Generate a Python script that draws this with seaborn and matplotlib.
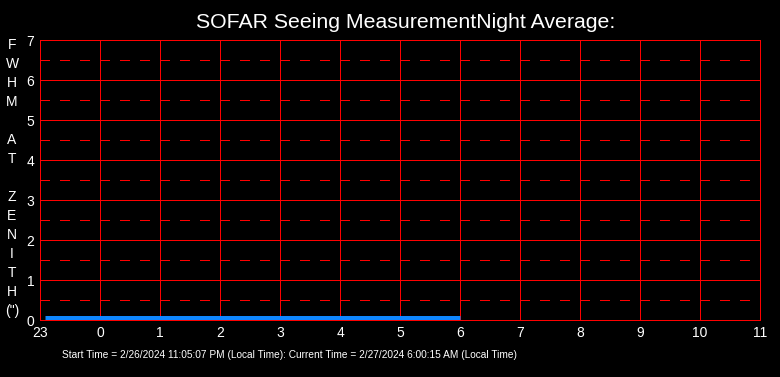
import matplotlib
matplotlib.use("Agg")
import matplotlib.pyplot as plt
import seaborn as sns
import pandas as pd
import numpy as np

# Data: hours since 23:00 local time, FWHM at zenith (arcsec)
hours_offset = [0.08, 1.0, 2.0, 3.0, 4.0, 5.0, 6.0, 7.0]
fwhm = [0.04, 0.04, 0.04, 0.04, 0.04, 0.04, 0.04, 0.04]
x_tick_labels = ["23", "0", "1", "2", "3", "4", "5", "6", "7", "8", "9", "10", "11"]
y_ticks = [0, 1, 2, 3, 4, 5, 6, 7]
title = "SOFAR Seeing MeasurementNight Average:"
ylabel_letters = ["F", "W", "H", "M", "", "A", "T", "", "Z", "E", "N", "I", "T", "H", "(\")"]
footer = "Start Time = 2/26/2024 11:05:07 PM (Local Time): Current Time = 2/27/2024 6:00:15 AM (Local Time)"

sns.set_style("dark")
plt.rcParams['font.family'] = ['Liberation Sans', 'DejaVu Sans']

df = pd.DataFrame({"t": hours_offset, "fwhm": fwhm})

fig = plt.figure(figsize=(7.8, 3.77), dpi=100, facecolor="black")
ax = fig.add_axes([40/780, 57/377, 720/780, 280/377])
ax.set_facecolor("black")

px = 0.72  # one pixel in points
RED = "#ff0000"
# grid
for xv in range(0, 13):
    ax.axvline(xv, color=RED, lw=px, zorder=1, antialiased=False)
for yv in y_ticks:
    ax.axhline(yv, color=RED, lw=px, zorder=1, antialiased=False)
for yv in np.arange(0.5, 7, 1.0):
    ax.axhline(yv, color=RED, lw=px, zorder=1, dashes=(9.5, 10.5),
               dash_capstyle="butt", antialiased=False)

sns.lineplot(data=df, x="t", y="fwhm", ax=ax, color="#0f87ff", lw=5*px,
             solid_capstyle="butt", zorder=3)

ax.set_xlim(0, 12)
ax.set_ylim(0, 7)
ax.set_xticks(range(13))
ax.set_xticklabels(x_tick_labels)
ax.set_yticks(y_ticks)
ax.set_yticklabels([str(v) for v in y_ticks])
ax.tick_params(colors="white", labelsize=10, length=0, pad=4)
for lab in ax.get_xticklabels() + ax.get_yticklabels():
    lab.set_color("white")
ax.set_xlabel("")
ax.set_ylabel("")
for s in ax.spines.values():
    s.set_visible(True)
    s.set_color(RED)
    s.set_linewidth(px)
    s.set_antialiased(False)
ax.grid(False)

fig.text(406/780, 1 - 22/377, title, color="white", fontsize=15.3, ha="center", va="center")
fig.text(12/780, 1 - 178/377, "\n".join(ylabel_letters), color="white", fontsize=10,
         ha="center", va="center", linespacing=1.46, multialignment="center")
fig.text(62/780, 1 - 355/377, footer, color="white", fontsize=7.3, ha="left", va="center")

fig.savefig("out.png", dpi=100, facecolor="black")
